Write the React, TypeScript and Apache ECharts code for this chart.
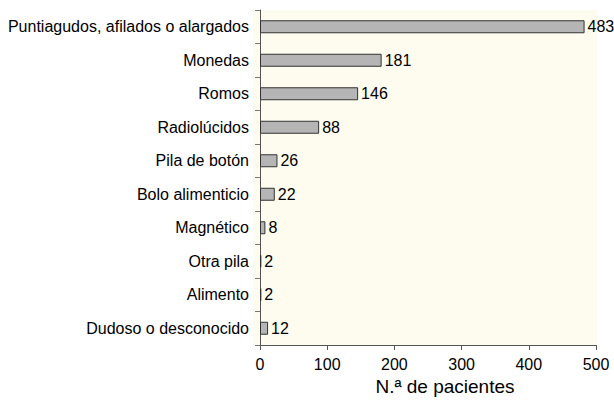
import React, { useEffect, useRef } from "react";
import * as echarts from "echarts";

const categories = [
  "Puntiagudos, afilados o alargados",
  "Monedas",
  "Romos",
  "Radiolúcidos",
  "Pila de botón",
  "Bolo alimenticio",
  "Magnético",
  "Otra pila",
  "Alimento",
  "Dudoso o desconocido",
];
const values = [483, 181, 146, 88, 26, 22, 8, 2, 2, 12];
const xTicks = [0, 100, 200, 300, 400, 500];

export default function App() {
  const ref = useRef<HTMLDivElement>(null);
  useEffect(() => {
    if (!ref.current) return;
    const chart = echarts.init(ref.current, null, { renderer: "svg" });
    const font = "'Liberation Sans', Arial, Helvetica, sans-serif";
    chart.setOption({
      animation: false,
      textStyle: { fontFamily: font },
      graphic: [
        {
          type: "rect",
          shape: { x: 253, y: 10, width: 344, height: 335 },
          style: { fill: "#fefcef" },
          z: -10,
          silent: true,
        },
      ],
      grid: { left: 260, right: 18, top: 10, bottom: 58, containLabel: false },
      xAxis: {
        type: "value",
        min: xTicks[0],
        max: xTicks[xTicks.length - 1],
        interval: 100,
        splitLine: { show: false },
        axisLine: { show: true, lineStyle: { color: "#555", width: 1 } },
        axisTick: { show: true, length: 5, lineStyle: { color: "#555" } },
        axisLabel: { color: "#000", fontSize: 16, margin: 11, fontFamily: font },
        name: "N.ª de pacientes",
        nameLocation: "middle",
        nameGap: 30,
        nameTextStyle: { color: "#000", fontSize: 19, fontFamily: font, padding: [0, 0, 0, 34] },
      },
      yAxis: {
        type: "category",
        data: categories,
        inverse: true,
        axisLine: { show: true, lineStyle: { color: "#555", width: 1 } },
        axisTick: { show: true, length: 5, lineStyle: { color: "#777" } },
        axisLabel: { color: "#000", fontSize: 16, margin: 11, fontFamily: font },
      },
      series: [
        {
          type: "bar",
          data: values,
          barWidth: 13,
          itemStyle: { color: "#b5b5b5", borderColor: "#333", borderWidth: 1 },
          label: {
            show: true,
            position: "right",
            distance: 3,
            color: "#000",
            fontSize: 16,
            fontFamily: font,
          },
        },
      ],
    });
    return () => chart.dispose();
  }, []);
  return <div ref={ref} style={{ width: 614, height: 403, position: "absolute", left: 0, top: 0 }} />;
}
